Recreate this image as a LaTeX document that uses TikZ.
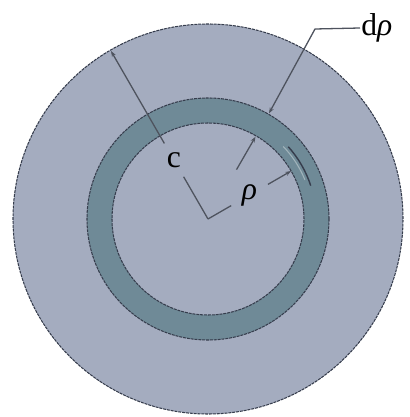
\documentclass[tikz,border=0pt]{standalone}
\usepackage{fontspec}
\setmainfont{Liberation Serif}
\usetikzlibrary{arrows.meta, positioning, calc}
\definecolor{discfill}{HTML}{A4ACBF}
\definecolor{ringfill}{HTML}{6F8A97}
\definecolor{edgecol}{HTML}{363D4D}
\definecolor{dimcol}{HTML}{4E535E}

\begin{document}
\begin{tikzpicture}[
    x=0.3mm, y=0.3mm,
    edge/.style={draw=edgecol, dash pattern=on 2.5pt off 0.8pt, line width=0.9pt},
    dim/.style={draw=dimcol, line width=1.1pt},
    tip/.style={-{Stealth[length=5pt, width=3.6pt]}},
    lbl/.style={font=\fontsize{27}{29}\selectfont, inner sep=1pt},
    gap/.style={circle, minimum size=#1, inner sep=0pt},
    >=Stealth
  ]
  \path[use as bounding box] (-208,-198) rectangle (201,219);
  \coordinate (O) at (0,0);

  % shaft cross-section with thin ring
  \fill[discfill] (O) circle (195);
  \draw[edge] (O) circle (195);
  \fill[ringfill, even odd rule] (O) circle (121) (O) circle (96);
  \draw[edge] (O) circle (121);
  \draw[edge] (O) circle (96);
  \draw[ringfill!65!white, line width=0.9pt] (22:104.5) arc[start angle=22, end angle=44, radius=104.5];
  \draw[edgecol, line width=1.2pt] (18:108) arc[start angle=18, end angle=42, radius=108];

  % radius c
  \coordinate (cTip) at (120:194);
  \node[lbl, gap=11.4mm] (c) at (120:68) {c};
  \draw[dim] (O) -- (c);
  \draw[dim, tip] (c) -- (cTip);

  % radius rho
  \coordinate (rTip) at (30:96);
  \node[lbl, gap=12.6mm] (rho) at (30:48) {\itshape ρ};
  \draw[dim] (O) -- (rho);
  \draw[dim, tip] (rho) -- (rTip);

  % thickness d rho
  \node[lbl, anchor=west] (drho) at (152,191) {d{\itshape ρ}};
  \coordinate (bend) at (107,190);
  \coordinate (dOut) at (60:122);
  \coordinate (dInTail) at (60:57);
  \coordinate (dIn) at (60:95);
  \draw[dim, tip] (drho.west) -- (bend) -- (dOut);
  \draw[dim, tip] (dInTail) -- (dIn);
\end{tikzpicture}
\end{document}
